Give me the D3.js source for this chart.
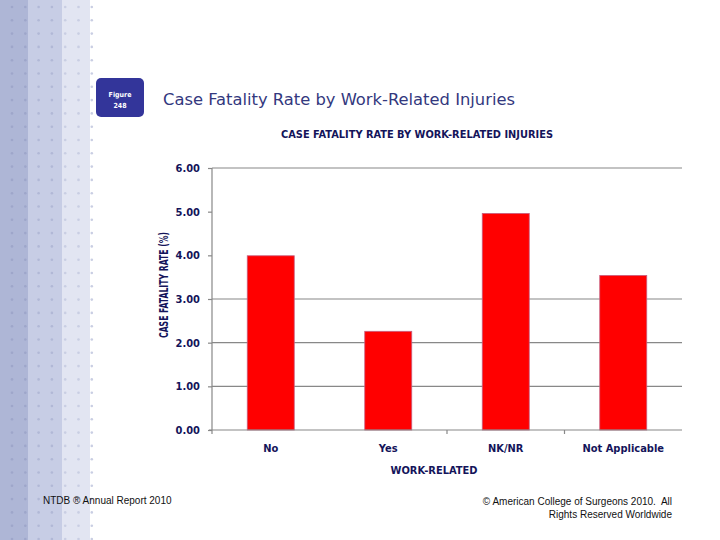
<!DOCTYPE html>
<html><head><meta charset="utf-8">
<script src="https://cdn.jsdelivr.net/npm/d3@7"></script>
<style>body{margin:0;background:#fff}svg{display:block}</style>
</head><body>
<svg id="c" width="720" height="540"></svg>
<script>
const categories = ["No", "Yes", "NK/NR", "Not Applicable"];
const rates = [3.99, 2.26, 4.96, 3.54];
const yTicks = [0, 1, 2, 3, 4, 5, 6];
const gridValues = [1, 2, 3, 6];
const pageTitle = "Case Fatality Rate by Work-Related Injuries";
const chartTitle = "CASE FATALITY RATE BY WORK-RELATED INJURIES";
const xTitle = "WORK-RELATED";
const yTitle = "CASE FATALITY RATE (%)";

const svg = d3.select("#c");
const navy = "#14145a";

// left decorative strip
const strips = [[0, 28, "#aeb6d6"], [28, 62, "#c7cde5"], [62, 90, "#e2e5f2"]];
svg.selectAll("rect.strip").data(strips).join("rect")
  .attr("x", d => d[0]).attr("y", 0).attr("width", d => d[1] - d[0]).attr("height", 540)
  .attr("fill", d => d[2]);
const dots = [];
for (let i = 0; i < 7; i++) for (let j = 0; j < 41; j++) dots.push([12 + i * 13.3, 7 + j * 13.3]);
svg.selectAll("circle.dot").data(dots).join("circle")
  .attr("cx", d => d[0]).attr("cy", d => d[1]).attr("r", 1.3)
  .attr("fill", d => d[0] < 28 ? "#9ea6ca" : d[0] < 62 ? "#b1b8d6" : "#c9cee3");

// figure badge
svg.append("rect").attr("x", 96).attr("y", 78).attr("width", 48).attr("height", 39).attr("rx", 5)
  .attr("fill", "#33359a");
svg.append("text").attr("x", 120).attr("y", 97).attr("text-anchor", "middle")
  .attr("font-family", "DejaVu Sans Condensed, DejaVu Sans").attr("font-size", 7).attr("font-weight", "bold")
  .attr("fill", "#fff").text("Figure");
svg.append("text").attr("x", 120).attr("y", 108).attr("text-anchor", "middle")
  .attr("font-family", "DejaVu Sans Condensed, DejaVu Sans").attr("font-size", 7).attr("font-weight", "bold")
  .attr("fill", "#fff").text("248");

svg.append("text").attr("x", 163).attr("y", 105)
  .attr("font-family", "DejaVu Sans").attr("font-size", 16.5).attr("fill", "#33387e")
  .attr("textLength", 352).attr("lengthAdjust", "spacingAndGlyphs").text(pageTitle);

svg.append("text").attr("x", 417).attr("y", 138).attr("text-anchor", "middle")
  .attr("font-family", "DejaVu Sans Condensed, DejaVu Sans").attr("font-size", 11).attr("font-weight", "bold")
  .attr("fill", navy).attr("textLength", 272).attr("lengthAdjust", "spacingAndGlyphs").text(chartTitle);

// scales
const xb = d3.scaleBand().domain(categories).range([212, 682]);
const y = d3.scaleLinear().domain([0, 6]).range([430, 168]);

// gridlines
svg.selectAll("line.grid").data(gridValues).join("line")
  .attr("x1", 212).attr("x2", 682).attr("y1", d => y(d)).attr("y2", d => y(d))
  .attr("stroke", "#888").attr("stroke-width", 1.2);

// bars
svg.selectAll("rect.bar").data(categories).join("rect")
  .attr("x", d => xb(d) + xb.bandwidth() / 2 - 23.5).attr("width", 47)
  .attr("y", (d, i) => y(rates[i])).attr("height", (d, i) => y(0) - y(rates[i]))
  .attr("fill", "#ff0000").attr("stroke", "#c86080").attr("stroke-width", 0.8);

// y axis
const yAxis = d3.axisLeft(y).tickValues(yTicks).tickSize(4).tickFormat(d3.format(".2f"));
const gy = svg.append("g").attr("transform", "translate(212,0)").call(yAxis);
gy.select(".domain").attr("stroke", "#888").attr("stroke-width", 1.2).attr("d", "M0,168V430");
gy.selectAll(".tick line").attr("stroke", "#888").attr("stroke-width", 1.2);
gy.selectAll(".tick text").attr("x", -12).attr("font-family", "DejaVu Sans Condensed, DejaVu Sans")
  .attr("font-size", 11).attr("font-weight", "bold").attr("fill", navy);

// x axis
const gx = svg.append("g").attr("transform", "translate(0,430)");
gx.append("line").attr("x1", 209).attr("x2", 682).attr("stroke", "#888").attr("stroke-width", 1.2);
const bounds = [0, 2, 3].map(i => xb(categories[i]));
gx.selectAll("line.tk").data(bounds).join("line")
  .attr("x1", d => d).attr("x2", d => d).attr("y1", 0).attr("y2", 4)
  .attr("stroke", "#888").attr("stroke-width", 1.2);
gx.selectAll("text").data(categories).join("text")
  .attr("x", d => xb(d) + xb.bandwidth() / 2).attr("y", 22).attr("text-anchor", "middle")
  .attr("font-family", "DejaVu Sans Condensed, DejaVu Sans").attr("font-size", 11).attr("font-weight", "bold")
  .attr("fill", navy).text(d => d);

svg.append("text").attr("x", 434).attr("y", 474).attr("text-anchor", "middle")
  .attr("font-family", "DejaVu Sans Condensed, DejaVu Sans").attr("font-size", 11).attr("font-weight", "bold")
  .attr("fill", navy).text(xTitle);

svg.append("text").attr("transform", "translate(168,285) rotate(-90)").attr("text-anchor", "middle")
  .attr("font-family", "DejaVu Sans").attr("font-size", 12).attr("font-weight", "bold")
  .attr("fill", navy).attr("textLength", 106).attr("lengthAdjust", "spacingAndGlyphs").text(yTitle);

// footer
svg.append("text").attr("x", 43).attr("y", 504).attr("font-family", "Liberation Sans, Arial")
  .attr("font-size", 10).attr("fill", "#111").text("NTDB ® Annual Report 2010");
svg.append("text").attr("x", 672).attr("y", 505).attr("text-anchor", "end").attr("font-family", "Liberation Sans, Arial")
  .attr("font-size", 10).attr("fill", "#111").attr("xml:space", "preserve").text("© American College of Surgeons 2010.  All");
svg.append("text").attr("x", 672).attr("y", 518).attr("text-anchor", "end").attr("font-family", "Liberation Sans, Arial")
  .attr("font-size", 10).attr("fill", "#111").text("Rights Reserved Worldwide");
</script>
</body></html>
